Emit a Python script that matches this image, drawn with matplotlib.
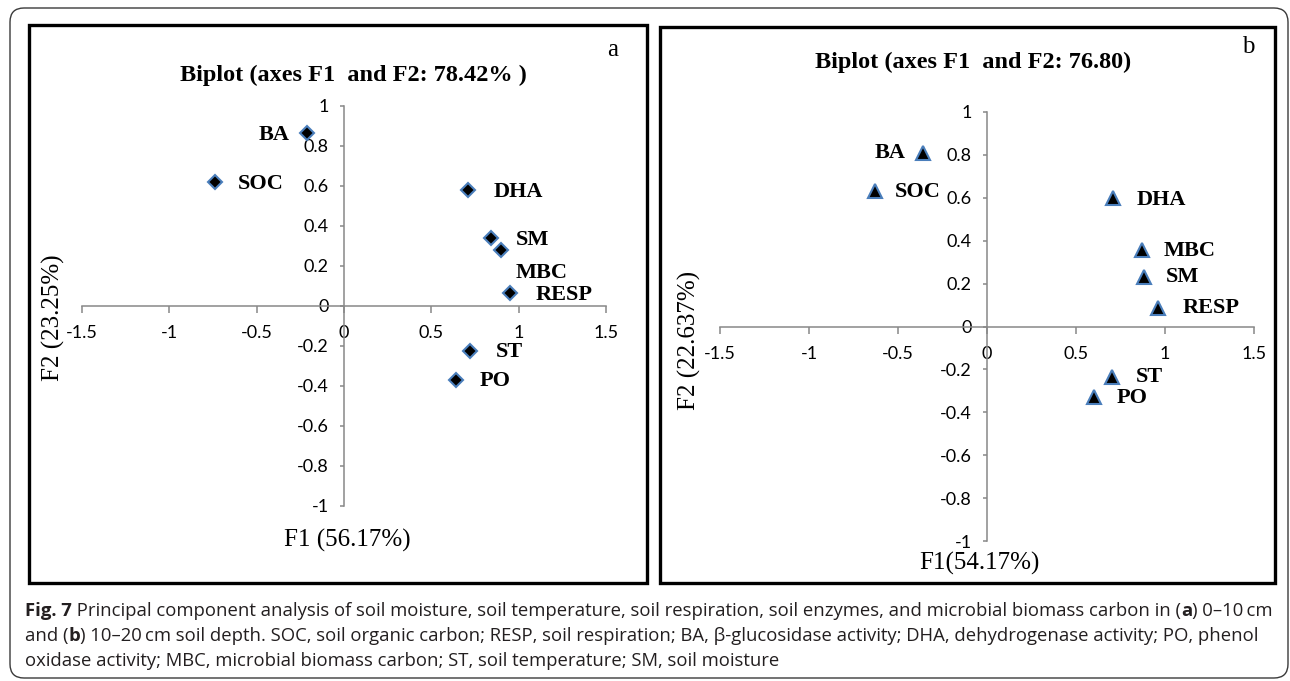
import matplotlib
matplotlib.use('Agg')
import matplotlib.pyplot as plt
from matplotlib.patches import FancyBboxPatch, Rectangle

# ---------------- data ----------------
vars_a = ['BA', 'SOC', 'DHA', 'SM', 'MBC', 'RESP', 'ST', 'PO']
f1_a = [-0.21, -0.74, 0.71, 0.84, 0.90, 0.95, 0.72, 0.64]
f2_a = [0.865, 0.62, 0.58, 0.34, 0.28, 0.065, -0.225, -0.37]

vars_b = ['BA', 'SOC', 'DHA', 'MBC', 'SM', 'RESP', 'ST', 'PO']
f1_b = [-0.36, -0.63, 0.71, 0.87, 0.88, 0.96, 0.70, 0.60]
f2_b = [0.81, 0.63, 0.60, 0.355, 0.23, 0.085, -0.235, -0.33]

x_ticks = [-1.5, -1, -0.5, 0, 0.5, 1, 1.5]
x_tick_labels = ['-1.5', '-1', '-0.5', '0', '0.5', '1', '1.5']
y_ticks = [-1, -0.8, -0.6, -0.4, -0.2, 0, 0.2, 0.4, 0.6, 0.8, 1]
y_tick_labels = ['-1', '-0.8', '-0.6', '-0.4', '-0.2', '0', '0.2', '0.4', '0.6', '0.8', '1']

title_a = 'Biplot (axes F1  and F2: 78.42% )'
title_b = 'Biplot (axes F1  and F2: 76.80)'
xlabel_a = 'F1 (56.17%)'
ylabel_a = 'F2 (23.25%)'
xlabel_b = 'F1(54.17%)'
ylabel_b = 'F2 (22.637%)'

# label placement (pixel offsets from marker; dx, dy(down), ha)
lab_a = {'BA': (-18, 2, 'right'), 'SOC': (23, 2, 'left'), 'DHA': (26, 2, 'left'),
         'SM': (25, 2, 'left'), 'MBC': (14, 23, 'left'), 'RESP': (26, 2, 'left'),
         'ST': (26, 1, 'left'), 'PO': (24, 1, 'left')}
lab_b = {'BA': (-17, 0, 'right'), 'SOC': (20, 1, 'left'), 'DHA': (23, 2, 'left'),
         'MBC': (22, 1, 'left'), 'SM': (22, 0, 'left'), 'RESP': (25, 0, 'left'),
         'ST': (24, 0, 'left'), 'PO': (23, 1, 'left')}

caption_lines = [
    [("Fig. 7", 'bold'), (" Principal component analysis of soil moisture, soil temperature, soil respiration, "
                          "soil enzymes, and microbial biomass carbon in (", 'normal'), ("a", 'bold'),
     (") 0\u201310\u2009cm", 'normal')],
    [("and (", 'normal'), ("b", 'bold'),
     (") 10\u201320\u2009cm soil depth. SOC, soil organic carbon; RESP, soil respiration; BA, \u03b2-glucosidase "
      "activity; DHA, dehydrogenase activity; PO, phenol", 'normal')],
    [("oxidase activity; MBC, microbial biomass carbon; ST, soil temperature; SM, soil moisture", 'normal')],
]

# ---------------- figure ----------------
W, H = 1290, 681
DPI = 100
fig = plt.figure(figsize=(W / DPI, H / DPI), dpi=DPI)
fig.patch.set_facecolor('white')

bg = fig.add_axes([0, 0, 1, 1], zorder=0)
bg.set_xlim(0, W)
bg.set_ylim(H, 0)
bg.axis('off')

bg.add_patch(FancyBboxPatch((10, 8), 1278, 670, boxstyle='round,pad=0,rounding_size=14',
                            fill=False, ec='#3a3a3a', lw=1.0))
bg.add_patch(Rectangle((29, 25), 618, 558, fill=False, ec='black', lw=2.4))
bg.add_patch(Rectangle((660, 27), 615, 556, fill=False, ec='black', lw=2.4))

SERIF = ['Liberation Serif', 'DejaVu Serif']
TICKF = ['Lato', 'DejaVu Sans']
AXC = '#888888'
EDGE = '#4a7ebb'


def make_panel(rect_px, xs, ys, names, labs, marker, ms):
    l, r, t, b = rect_px
    ax = fig.add_axes([l / W, 1 - b / H, (r - l) / W, (b - t) / H], zorder=2)
    ax.patch.set_alpha(0)
    ax.set_xlim(-1.5, 1.5)
    ax.set_ylim(-1, 1)
    for s in ('top', 'right'):
        ax.spines[s].set_visible(False)
    ax.spines['left'].set_position(('data', 0))
    ax.spines['bottom'].set_position(('data', 0))
    for s in ('left', 'bottom'):
        ax.spines[s].set_color(AXC)
        ax.spines[s].set_linewidth(1.1)
    ax.set_xticks(x_ticks)
    ax.set_xticklabels(x_tick_labels, family=TICKF, fontsize=13)
    ax.set_yticks(y_ticks)
    ax.set_yticklabels(y_tick_labels, family=TICKF, fontsize=13)
    ax.tick_params(axis='x', direction='out', length=5, width=1.1, color=AXC, pad=9)
    ax.tick_params(axis='y', direction='out', length=3, width=1.1, color=AXC, pad=8)
    ax.plot(xs, ys, linestyle='none', marker=marker, ms=ms, mfc='black', mec=EDGE,
            mew=1.5, clip_on=False, zorder=5)
    for n, x, y in zip(names, xs, ys):
        dx, dy, ha = labs[n]
        ax.annotate(n, (x, y), xytext=(dx * 72 / DPI, -dy * 72 / DPI), textcoords='offset points',
                    ha=ha, va='center', family=SERIF, weight='bold', fontsize=16, zorder=6)
    return ax


axa = make_panel((82, 606, 106, 506), f1_a, f2_a, vars_a, lab_a, 'D', 7.5)
axb = make_panel((720, 1254, 112, 541), f1_b, f2_b, vars_b, lab_b, '^', 10.5)

# titles, axis labels, panel letters
bg.text(353, 75, title_a, ha='center', va='center', family=SERIF, weight='bold', fontsize=17.5)
bg.text(973, 62, title_b, ha='center', va='center', family=SERIF, weight='bold', fontsize=17.5)
bg.text(347, 540, xlabel_a, ha='center', va='center', family=SERIF, fontsize=18)
bg.text(53, 318, ylabel_a, ha='center', va='center', rotation=90, family=SERIF, fontsize=18)
bg.text(979, 563, xlabel_b, ha='center', va='center', family=SERIF, fontsize=18)
bg.text(689, 340, ylabel_b, ha='center', va='center', rotation=90, family=SERIF, fontsize=18)
bg.text(613, 50, 'a', ha='center', va='center', family=SERIF, fontsize=18)
bg.text(1248, 47, 'b', ha='center', va='center', family=SERIF, fontsize=18)

# caption, built piece by piece
CAPF = ['Open Sans', 'DejaVu Sans']
CAPC = '#231f20'
renderer = fig.canvas.get_renderer()
# fit font size so that the first line spans the same width as in the reference
probe = fig.text(0, 0, ''.join(p for p, _ in caption_lines[0]), family=CAPF, fontsize=10)
w10 = probe.get_window_extent(renderer).width
probe.remove()
cap_fs = 10 * 1243 / w10
baselines = [616, 641, 666]
for line, yb in zip(caption_lines, baselines):
    x = 25
    for txt, wgt in line:
        t = bg.text(x, yb, txt, ha='left', va='baseline', family=CAPF, weight=wgt,
                    fontsize=cap_fs, color=CAPC)
        x += t.get_window_extent(renderer).width

fig.savefig('out.png', dpi=DPI)
